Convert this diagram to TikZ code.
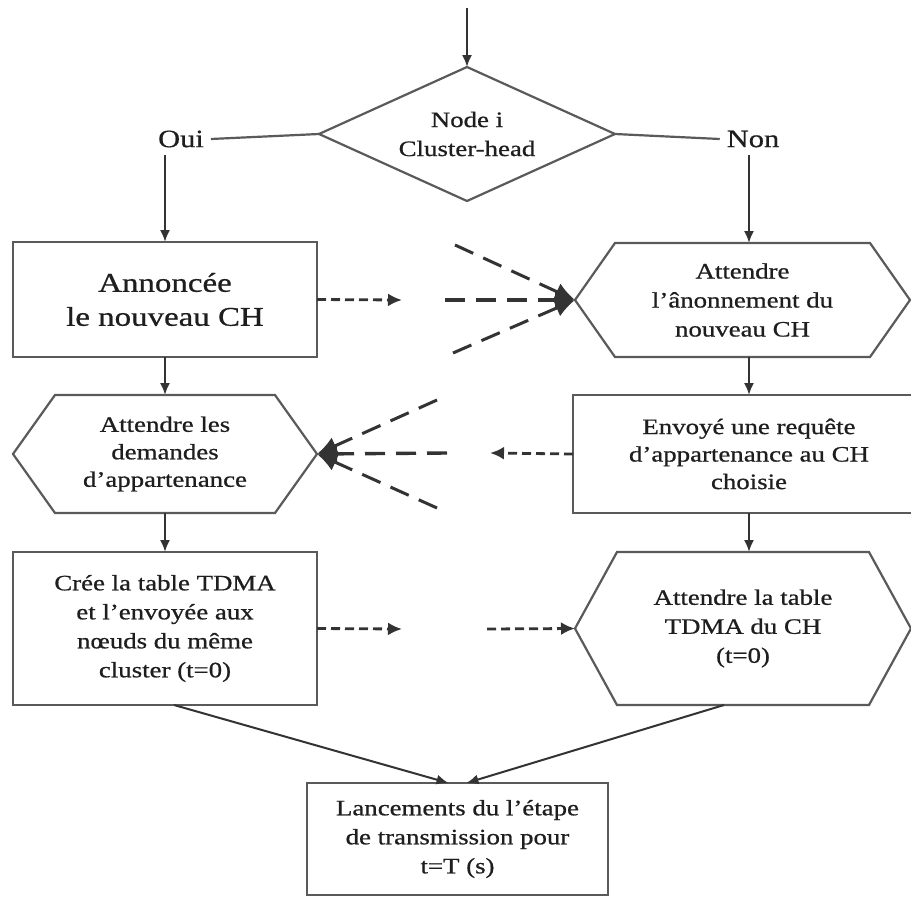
\documentclass[tikz,border=0pt]{standalone}
\usepackage{fontspec}
\setmainfont{Liberation Serif}[FakeStretch=1.22,FakeBold=0.7]
\usetikzlibrary{arrows.meta,calc}
\definecolor{ln}{HTML}{5A5A5A}
\definecolor{lnd}{HTML}{333333}
\definecolor{tx}{HTML}{1E1E1E}
\tikzset{
  every node/.style={inner sep=0pt, outer sep=0pt, text=tx, align=center, font=\fontsize{22}{29}\selectfont},
  boxnode/.style={draw=ln, line width=2.2pt, rectangle},
  hexnode/.style={rectangle},
  plain/.style={draw=ln, line width=2.2pt},
  flow/.style={draw=lnd, line width=2pt, -{Latex[length=12pt,width=10pt]}},
  shortdash/.style={draw=lnd, line width=2.8pt, dash pattern=on 9pt off 5pt, -{Latex[length=14pt,width=13pt]}},
  fandash/.style={draw=lnd, line width=3.4pt, dash pattern=on 20pt off 11pt, -{Latex[length=20pt,width=18pt]}},
}
\newcommand{\hexoutline}[2]{\draw[plain] (#1.west) -- ([xshift=#2]#1.north west) -- ([xshift=-#2]#1.north east) -- (#1.east) -- ([xshift=-#2]#1.south east) -- ([xshift=#2]#1.south west) -- cycle;}
\begin{document}
\begin{tikzpicture}[x=1pt,y=-1pt]
\fill[white] (0,0) rectangle (911,897);
\useasboundingbox (0,0) rectangle (911,897);

% decision
\node[minimum width=296pt, minimum height=134pt] (d) at (467,134) {Node i\\Cluster-head};
\draw[plain] (d.north) -- (d.east) -- (d.south) -- (d.west) -- cycle;
\node[font=\fontsize{25}{29}\selectfont] (oui) at (181,139) {Oui};
\node[font=\fontsize{25}{29}\selectfont] (non) at (753,139) {Non};
\coordinate (start) at (467,8);
\draw[flow] (start) -- (d.north);
\draw[plain] (d.west) -- ([xshift=7pt]oui.east);
\draw[plain] (d.east) -- ([xshift=-7pt]non.west);

% left column
\node[boxnode, minimum width=304pt, minimum height=115pt, font=\fontsize{27}{34}\selectfont] (b1) at (165,299.5) {Annoncée\\le nouveau CH};
\node[hexnode, minimum width=304pt, minimum height=118pt, font=\fontsize{22}{27.5}\selectfont] (h2) at (165,454) {Attendre les\\demandes\\d’appartenance};
\hexoutline{h2}{42pt}
\node[boxnode, minimum width=304pt, minimum height=153pt] (b3) at (165,628.5) {Crée la table TDMA\\et l’envoyée aux\\nœuds du même\\cluster (t=0)};

% right column
\node[hexnode, minimum width=335pt, minimum height=114pt] (h1) at (742.5,300) {Attendre\\l’ânonnement du\\nouveau CH};
\hexoutline{h1}{40pt}
\node[boxnode, minimum width=352pt, minimum height=118pt, font=\fontsize{22}{27.5}\selectfont] (r2) at (749,454) {Envoyé une requête\\d’appartenance au CH\\choisie};
\node[hexnode, minimum width=336pt, minimum height=153pt] (h3) at (743,628.5) {Attendre la table\\TDMA du CH\\(t=0)};
\hexoutline{h3}{42pt}

% bottom
\node[boxnode, minimum width=301pt, minimum height=112pt] (b4) at (457.5,839) {Lancements du l’étape\\de transmission pour\\t=T (s)};

% solid flow
\draw[flow] ($(oui.south -| b1.north)+(0,8)$) -- (b1.north);
\draw[flow] ($(non.south -| r2.north)+(0,8)$) -- (r2.north |- h1.north);
\draw[flow] (b1.south) -- (h2.north);
\draw[flow] (h2.south) -- (b3.north);
\draw[flow] (h1.south -| r2.north) -- (r2.north);
\draw[flow] (r2.south) -- (r2.south |- h3.north);
\draw[flow] ([xshift=9pt]b3.south) -- ([xshift=-9pt]b4.north);
\draw[flow] ([xshift=-19pt]h3.south) -- ([xshift=9pt]b4.north);

% dashed messages
\coordinate (c1) at (402,300);
\draw[shortdash] (b1.east) -- (c1);
\coordinate (f1a) at (455,245);
\coordinate (f1b) at (445,300);
\coordinate (f1c) at (453,353);
\draw[fandash, line width=3pt] (f1a) -- (h1.west);
\draw[fandash] (f1b) -- (h1.west);
\draw[fandash, line width=3pt] (f1c) -- (h1.west);

\coordinate (c2) at (490,453);
\draw[shortdash] (r2.west) -- (c2);
\coordinate (f2a) at (437,400);
\coordinate (f2b) at (447,453);
\coordinate (f2c) at (437,508);
\draw[fandash, line width=3pt] (f2a) -- (h2.east);
\draw[fandash] (f2b) -- (h2.east);
\draw[fandash, line width=3pt] (f2c) -- (h2.east);

\coordinate (c3) at (402,629);
\draw[shortdash] (b3.east) -- (c3);
\coordinate (c4) at (487,629);
\draw[shortdash] (c4) -- (h3.west);
\end{tikzpicture}
\end{document}
